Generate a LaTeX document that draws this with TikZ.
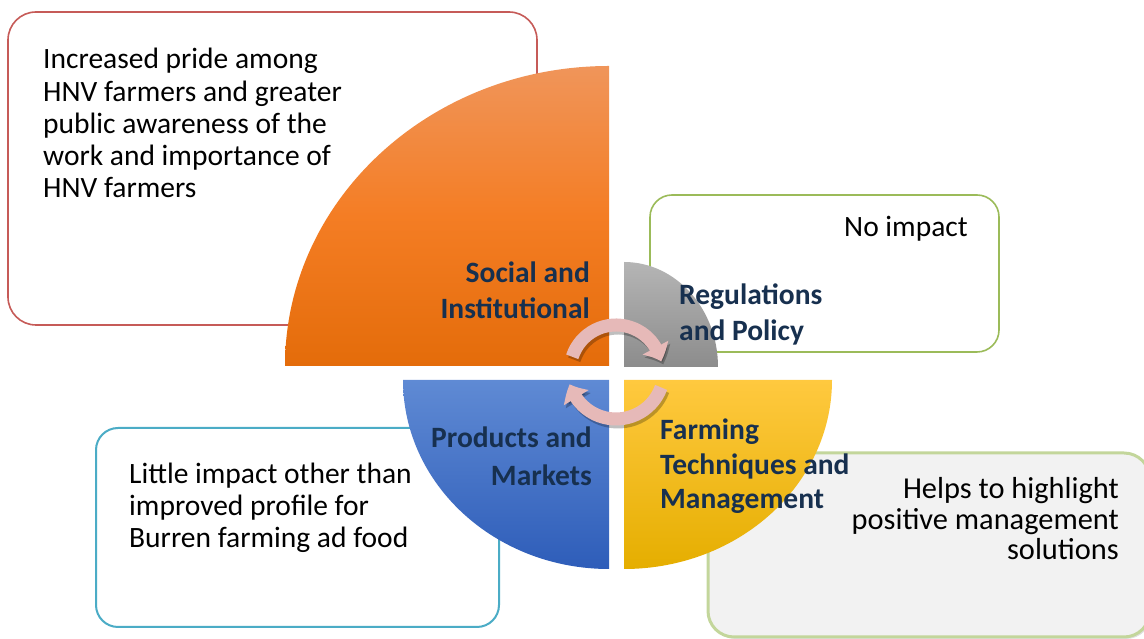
\documentclass[tikz,border=0pt]{standalone}
\usepackage{fontspec}
\setmainfont{Carlito}
\usetikzlibrary{arrows.meta,bending,shadows}
\definecolor{redline}{HTML}{C65B58}
\definecolor{greenline}{HTML}{9BBB59}
\definecolor{blueline}{HTML}{4BACC6}
\definecolor{palegreen}{HTML}{C3D69B}
\definecolor{boxgray}{HTML}{F2F2F2}
\definecolor{navy}{HTML}{17304F}
\definecolor{pinkarrow}{HTML}{E6B9B8}
\definecolor{orangeT}{HTML}{F0955A}
\definecolor{orangeM}{HTML}{F47D24}
\definecolor{orangeB}{HTML}{E46C0A}
\definecolor{grayT}{HTML}{B5B5B5}
\definecolor{grayB}{HTML}{8C8C8C}
\definecolor{blueT}{HTML}{5F8AD4}
\definecolor{blueB}{HTML}{2E5DB9}
\definecolor{yellowT}{HTML}{FFC93F}
\definecolor{yellowM}{HTML}{FFC000}
\definecolor{yellowB}{HTML}{E5AE00}
\begin{document}
\begin{tikzpicture}[x=1pt,y=1pt,
  box/.style={rounded corners=28pt, line width=1.6pt, fill=white},
  lbl/.style={font=\fontsize{29.5}{36}\selectfont\bfseries, text=navy, inner sep=0pt},
  txt/.style={font=\fontsize{29.5}{32.3}\selectfont, text=black, inner sep=0pt},
  circarrow/.style={line width=13pt, draw=pinkarrow, -{Triangle[width=28pt,length=15pt,bend]}},
  arrowshadow/.style={line width=13pt, draw=black, opacity=0.25, -{Triangle[width=28pt,length=15pt,bend]}}]
\useasboundingbox (0,0) rectangle (1144,639);
% boxes
\draw[box, draw=redline] (8,314) rectangle (537,627);
\draw[box, draw=greenline, rounded corners=22pt] (650,287) rectangle (999,444);
\draw[box, draw=blueline, line width=2pt, rounded corners=22pt] (96,12) rectangle (499,211);
\draw[box, draw=palegreen, fill=boxgray, line width=3pt, rounded corners=26pt,
      drop shadow={shadow xshift=2pt, shadow yshift=-2pt, opacity=0.25}] (708,2) rectangle (1150,186);
% quadrants
\shade[top color=orangeT, bottom color=orangeB, middle color=orangeM]
  (609,273) -- (285,273) arc[start angle=180, end angle=90, x radius=324, y radius=300] -- cycle;
\shade[top color=grayT, bottom color=grayB]
  (624,272) -- (624,377) arc[start angle=90, end angle=0, x radius=94, y radius=105] -- cycle;
\shade[top color=blueT, bottom color=blueB]
  (609,259) -- (609,70) arc[start angle=270, end angle=180, x radius=206, y radius=189] -- cycle;
\shade[top color=yellowT, middle color=yellowM, bottom color=yellowB]
  (624,259) -- (832,259) arc[start angle=0, end angle=-90, x radius=208, y radius=189] -- cycle;
% circular arrows
\coordinate (c) at (616,268);
\coordinate (cs) at (618,265);
\draw[arrowshadow] ([shift={(162:46)}]cs) arc[start angle=162, end angle=12, radius=46];
\draw[arrowshadow] ([shift={(-20:48)}]cs) arc[start angle=-20, end angle=-164, radius=48];
\draw[circarrow] ([shift={(162:46)}]c) arc[start angle=162, end angle=12, radius=46];
\draw[circarrow] ([shift={(-20:48)}]c) arc[start angle=-20, end angle=-164, radius=48];
% box texts
\node[txt, anchor=base west, align=left] (t1) at (43,441)
  {Increased pride among\\HNV farmers and greater\\public awareness of the\\work and importance of\\HNV farmers};
\node[txt, anchor=base east] (t2) at (968,402) {No impact};
\node[txt, anchor=base west, align=left, font=\fontsize{29.5}{32}\selectfont] (t3) at (129,91)
  {Little impact other than\\improved profile for\\Burren farming ad food};
\node[txt, anchor=base east, align=right, font=\fontsize{30.4}{30.8}\selectfont] (t4) at (1119,79)
  {Helps to highlight\\positive management\\solutions};
% labels
\node[lbl, anchor=base east, align=right] (l1) at (590,320) {Social and\\Institutional};
\node[lbl, anchor=base west, align=left] (l2) at (679,298) {Regulations\\and Policy};
\node[lbl, anchor=base east, align=right, font=\fontsize{29.5}{38}\selectfont\bfseries] (l3) at (592,153) {Products and\\Markets};
\node[lbl, anchor=base west, align=left, font=\fontsize{29.5}{34.5}\selectfont\bfseries] (l4) at (660,130) {Farming\\Techniques and\\Management};
\end{tikzpicture}
\end{document}
